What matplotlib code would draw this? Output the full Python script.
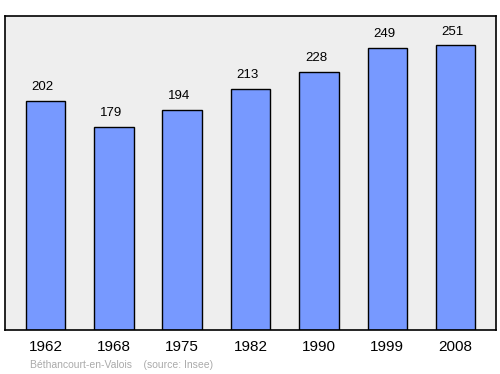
import matplotlib
matplotlib.use("Agg")
import matplotlib.pyplot as plt

plt.rcParams["font.family"] = ["Liberation Sans", "DejaVu Sans"]

years = ["1962", "1968", "1975", "1982", "1990", "1999", "2008"]
population = [202, 179, 194, 213, 228, 249, 251]

fig = plt.figure(figsize=(5, 3.74), dpi=100)
ax = fig.add_axes([0.01, 44 / 374, 0.982, 314 / 374])
ax.set_facecolor("#eeeeee")

x = list(range(len(years)))
ax.bar(x, population, width=0.578, color="#7799ff", edgecolor="black", linewidth=1, zorder=2)
for xi, v in zip(x, population):
    ax.annotate(str(v), (xi, v), xytext=(-2.2, 5.5), textcoords="offset points",
                ha="center", va="bottom", fontsize=9.5, color="black")

ax.set_xlim(-0.592, 6.59)
ax.set_ylim(0, 277)
ax.set_yticks([])
ax.set_xticks(x)
ax.set_xticklabels(years, fontsize=11)
ax.tick_params(axis="x", length=0, pad=7.5)
for s in ax.spines.values():
    s.set_linewidth(1.2)
    s.set_color("black")

fig.text(30 / 500, 1 - 365 / 374, "Béthancourt-en-Valois    (source: Insee)",
         fontsize=7.5, color="#aaaaaa", ha="left", va="center")

fig.savefig("out.png", dpi=100)
